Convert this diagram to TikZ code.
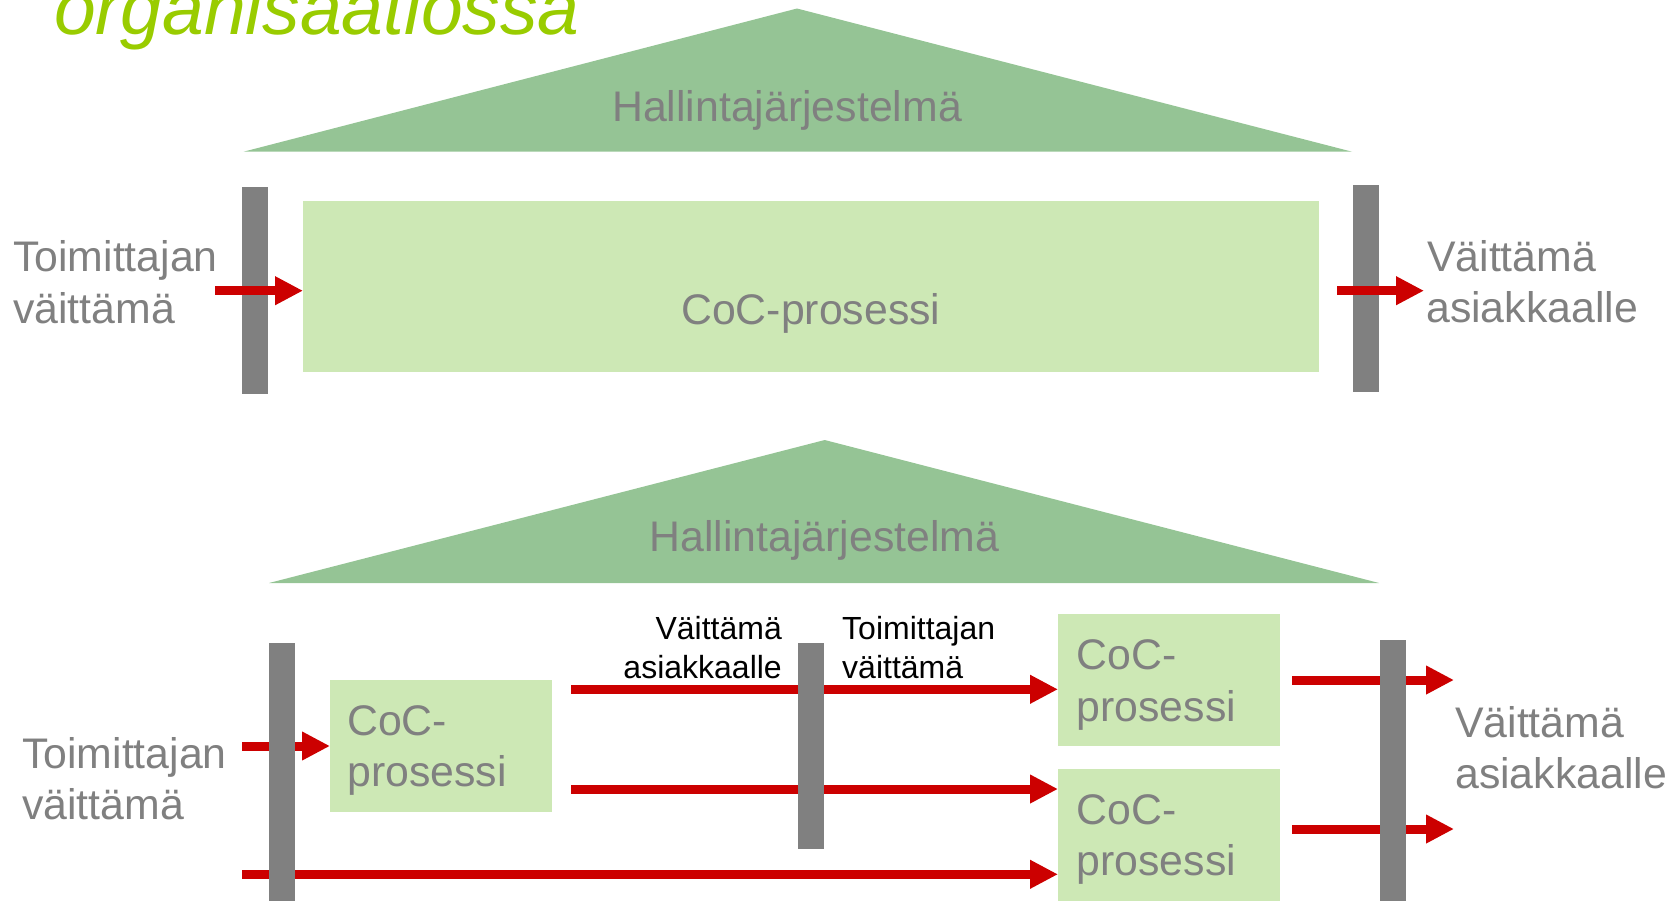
\documentclass[tikz,border=0pt]{standalone}
\usepackage{fontspec}
\setmainfont{Liberation Sans}
\usetikzlibrary{arrows.meta}
\definecolor{roofgreen}{HTML}{95C495}
\definecolor{boxgreen}{HTML}{CDE8B5}
\definecolor{bargray}{HTML}{808080}
\definecolor{txtgray}{HTML}{808080}
\definecolor{arrowred}{HTML}{CC0000}
\definecolor{titlegreen}{HTML}{99CC00}
\begin{document}
\begin{tikzpicture}[x=1pt,y=-1pt,
  procbox/.style={fill=boxgreen, draw=none, inner sep=0pt, outer sep=0pt, rectangle},
  barbox/.style={fill=bargray, draw=none, inner sep=0pt, outer sep=0pt, rectangle, minimum width=26pt},
  bigtxt/.style={font=\fontsize{42.8}{50}\selectfont, text=txtgray, inner sep=0pt, anchor=base west},
  smalltxt/.style={font=\fontsize{32}{38}\selectfont, text=black, inner sep=0pt},
  flow/.style={draw=arrowred, line width=9pt, -{Triangle[length=28pt,width=27pt]}},
]
\useasboundingbox (0,0) rectangle (1675,900);
\clip (0,0) rectangle (1675,900);

% title
\node[font=\fontsize{75}{80}\selectfont\itshape, text=titlegreen, inner sep=0pt, anchor=base west] (title) at (54,34) {organisaatiossa};

% ===== top diagram =====
\fill[roofgreen] (797,8.5) -- (1352,151.7) -- (243.5,151.7) -- cycle;
\node[bigtxt] (roofA) at (612,121) {Hallintajärjestelmä};

\node[procbox, minimum width=1016pt, minimum height=171pt] (topbox) at (811,286.5) {};
\node[bigtxt] (topcoc) at (681,324.3) {CoC-prosessi};

\node[barbox, minimum height=207pt] (barTL) at (255,290.5) {};
\node[barbox, minimum height=207pt] (barTR) at (1366,288.5) {};

\node[bigtxt] (tinA) at (13,271.7) {Toimittajan};
\node[bigtxt] (tinB) at (13,323) {väittämä};
\node[bigtxt] (toutA) at (1427,271.7) {Väittämä};
\node[bigtxt] (toutB) at (1426,322.7) {asiakkaalle};

\coordinate (tinS) at (215,290.7);
\coordinate (toutS) at (1337,290.7);
\coordinate (toutE) at (1424,290.7);
\draw[flow] (tinS) -- (tinS -| topbox.west);
\draw[flow] (toutS) -- (toutE);

% ===== bottom diagram =====
\fill[roofgreen] (824.7,440) -- (1379,583) -- (269,583) -- cycle;
\node[bigtxt] (roofB) at (649.5,551) {Hallintajärjestelmä};

\node[procbox, minimum width=222pt, minimum height=132pt] (boxL) at (441,746) {};
\node[procbox, minimum width=222pt, minimum height=132pt] (boxRA) at (1169,680) {};
\node[procbox, minimum width=222pt, minimum height=132pt] (boxRB) at (1169,835) {};

\node[bigtxt] (cocLa) at (347,735.7) {CoC-};
\node[bigtxt] (cocLb) at (347,786.7) {prosessi};
\node[bigtxt] (cocRAa) at (1076.5,669.3) {CoC-};
\node[bigtxt] (cocRAb) at (1076.5,721.7) {prosessi};
\node[bigtxt] (cocRBa) at (1076.5,824) {CoC-};
\node[bigtxt] (cocRBb) at (1076.5,875.3) {prosessi};

\node[bigtxt] (binA) at (22,768.3) {Toimittajan};
\node[bigtxt] (binB) at (22,819.3) {väittämä};
\node[bigtxt] (boutA) at (1455,737.3) {Väittämä};
\node[bigtxt] (boutB) at (1455,788.3) {asiakkaalle};

\node[smalltxt, anchor=base east] (midA) at (782,639.3) {Väittämä};
\node[smalltxt, anchor=base east] (midB) at (782,678.3) {asiakkaalle};
\node[smalltxt, anchor=base west] (midC) at (842,639.3) {Toimittajan};
\node[smalltxt, anchor=base west] (midD) at (842,678.3) {väittämä};

\coordinate (b1S) at (242,746);
\coordinate (b2S) at (571,689.3);
\coordinate (b3S) at (571,789);
\coordinate (b4S) at (242,874.3);
\coordinate (b5S) at (1292,680);
\coordinate (b5E) at (1454,680);
\coordinate (b6S) at (1292,829);
\coordinate (b6E) at (1454,829);

\draw[flow] (b1S) -- (b1S -| boxL.west);
\draw[flow] (b2S) -- (b2S -| boxRA.west);
\draw[flow] (b3S) -- (b3S -| boxRB.west);
\draw[flow] (b4S) -- (b4S -| boxRB.west);
\draw[flow] (b5S) -- (b5E);
\draw[flow] (b6S) -- (b6E);

\node[barbox, minimum height=264pt] (barBL) at (282,775) {};
\node[barbox, minimum height=206pt] (barBM) at (811,746) {};
\node[barbox, minimum height=266pt] (barBR) at (1393,773) {};
\end{tikzpicture}
\end{document}
